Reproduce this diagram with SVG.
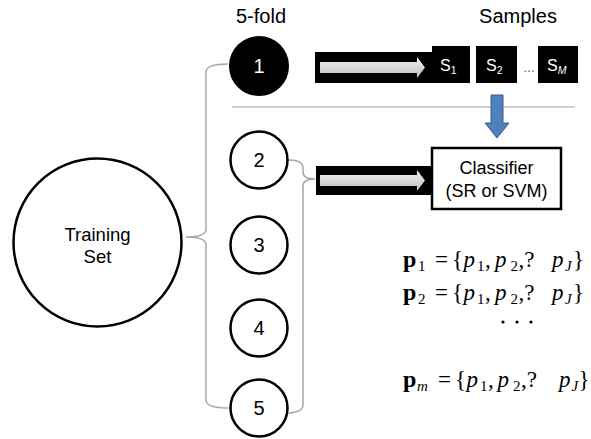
<svg xmlns="http://www.w3.org/2000/svg" width="591" height="439" viewBox="0 0 591 439">
<style>
.sans{font-family:"Liberation Sans",Arial,sans-serif;}
.ring{fill:#fff;stroke:#000;stroke-width:2.5;}
.brk{fill:none;stroke:#a6a6a6;stroke-width:1.5;}
.blk{fill:#000;}
.garrow{fill:url(#gg);}
.sbox{fill:#000;}
.st{font-family:"Liberation Sans",Arial,sans-serif;fill:#fff;font-size:16px;}
.sub{font-size:10.5px;}
.f{font-family:"Liberation Serif","Times New Roman",serif;font-size:23px;fill:#000;}
.fs{font-size:15px;}
.b{font-weight:bold;font-size:24px;}
.i{font-style:italic;}
</style>
<defs>
<linearGradient id="gg" x1="0" y1="0" x2="0" y2="1">
<stop offset="0" stop-color="#f2f2f2"/>
<stop offset="1" stop-color="#bdbdbd"/>
</linearGradient>
</defs>
<rect width="591" height="439" fill="#fff"/>

<text class="sans" x="261" y="23" font-size="20" text-anchor="middle">5-fold</text>
<text class="sans" x="518" y="23" font-size="20" text-anchor="middle">Samples</text>

<g id="connectors">
<path class="brk" d="M228,64 Q206,64 206,72 L206,229 Q206,237 186,237 Q206,237 206,245 L206,400 Q206,408 228,408"/>
<path class="brk" d="M289,160 Q303,160 303,168 L303,172 Q303,179 315,179 Q303,179 303,186 L303,405 Q303,412 289,413"/>
<line x1="232" y1="107" x2="575" y2="107" stroke="#bfbfbf" stroke-width="1.5"/>
<g id="arrow1">
<rect class="blk" x="315" y="52" width="118" height="31"/>
<polygon class="garrow" points="320,62 417,62 417,57 425,67.5 417,78 417,73 320,73"/>
</g>
<g id="arrow2">
<rect class="blk" x="316" y="166" width="116" height="29"/>
<polygon class="garrow" points="320,175 417,175 417,170 425,180.5 417,191 417,186 320,186"/>
</g>
<polygon points="491,95 503,95 503,123 509,123 497,138 485,123 491,123" fill="#4f81bd" stroke="#385d8a" stroke-width="1"/>
</g>

<g id="training">
<circle class="ring" cx="97.5" cy="242.5" r="84"/>
<text class="sans" x="97.5" y="241" font-size="18.5" text-anchor="middle">Training</text>
<text class="sans" x="97.5" y="263" font-size="18.5" text-anchor="middle">Set</text>
</g>

<g id="fold1">
<circle cx="259" cy="66" r="29" fill="#000" stroke="#000" stroke-width="2"/>
<text class="sans" x="259" y="73" font-size="20" fill="#fff" text-anchor="middle">1</text>
</g>
<g id="fold2">
<circle class="ring" cx="259" cy="160" r="28.5"/>
<text class="sans" x="259" y="167" font-size="20" text-anchor="middle">2</text>
</g>
<g id="fold3">
<circle class="ring" cx="259" cy="245" r="28.5"/>
<text class="sans" x="259" y="252" font-size="20" text-anchor="middle">3</text>
</g>
<g id="fold4">
<circle class="ring" cx="259" cy="328" r="28.5"/>
<text class="sans" x="259" y="335" font-size="20" text-anchor="middle">4</text>
</g>
<g id="fold5">
<circle class="ring" cx="259" cy="408" r="28.5"/>
<text class="sans" x="259" y="415" font-size="20" text-anchor="middle">5</text>
</g>

<g id="s1">
<rect class="sbox" x="432" y="46" width="38" height="37"/>
<text class="st" x="440" y="71">S<tspan class="sub" dy="3">1</tspan></text>
</g>
<g id="s2">
<rect class="sbox" x="476" y="46" width="41" height="37"/>
<text class="st" x="486" y="71">S<tspan class="sub" dy="3">2</tspan></text>
</g>
<text class="sans" x="529" y="72" font-size="12" fill="#555" text-anchor="middle">…</text>
<g id="sm">
<rect class="sbox" x="538" y="46" width="40" height="37"/>
<text class="st" x="547" y="71">S<tspan class="sub i" dy="3">M</tspan></text>
</g>

<g id="classifier">
<rect x="432" y="148" width="129" height="61" fill="#fff" stroke="#000" stroke-width="2.5"/>
<text class="sans" x="496.5" y="174" font-size="18" text-anchor="middle">Classifier</text>
<text class="sans" x="496.5" y="197" font-size="18" text-anchor="middle">(SR or SVM)</text>
</g>

<g id="formulas">
<text class="f" y="267"><tspan class="b" x="403">p</tspan><tspan class="fs" x="418" dy="4">1</tspan><tspan x="435" dy="-4">=</tspan><tspan x="452">{</tspan><tspan class="i" x="463.5">p</tspan><tspan class="fs" x="477" dy="4">1</tspan><tspan x="485" dy="-4">,</tspan><tspan class="i" x="495">p</tspan><tspan class="fs" x="510.5" dy="4">2</tspan><tspan x="518.5" dy="-4">,?</tspan><tspan class="i" x="552">p</tspan><tspan class="fs i" x="565" dy="4">J</tspan><tspan x="573" dy="-4">}</tspan></text>
<text class="f" y="300"><tspan class="b" x="403">p</tspan><tspan class="fs" x="418" dy="4">2</tspan><tspan x="435" dy="-4">=</tspan><tspan x="452">{</tspan><tspan class="i" x="463.5">p</tspan><tspan class="fs" x="477" dy="4">1</tspan><tspan x="485" dy="-4">,</tspan><tspan class="i" x="495">p</tspan><tspan class="fs" x="510.5" dy="4">2</tspan><tspan x="518.5" dy="-4">,?</tspan><tspan class="i" x="552">p</tspan><tspan class="fs i" x="565" dy="4">J</tspan><tspan x="573" dy="-4">}</tspan></text>
<circle cx="503" cy="322" r="1.6"/>
<circle cx="517" cy="322" r="1.6"/>
<circle cx="531" cy="322" r="1.6"/>
<text class="f" y="387"><tspan class="b" x="403">p</tspan><tspan class="fs i" x="417" dy="4">m</tspan><tspan x="438" dy="-4">=</tspan><tspan x="455">{</tspan><tspan class="i" x="466.5">p</tspan><tspan class="fs" x="480" dy="4">1</tspan><tspan x="488" dy="-4">,</tspan><tspan class="i" x="497.5">p</tspan><tspan class="fs" x="513" dy="4">2</tspan><tspan x="521" dy="-4">,?</tspan><tspan class="i" x="559">p</tspan><tspan class="fs i" x="571.5" dy="4">J</tspan><tspan x="578.5" dy="-4">}</tspan></text>
</g>
</svg>
